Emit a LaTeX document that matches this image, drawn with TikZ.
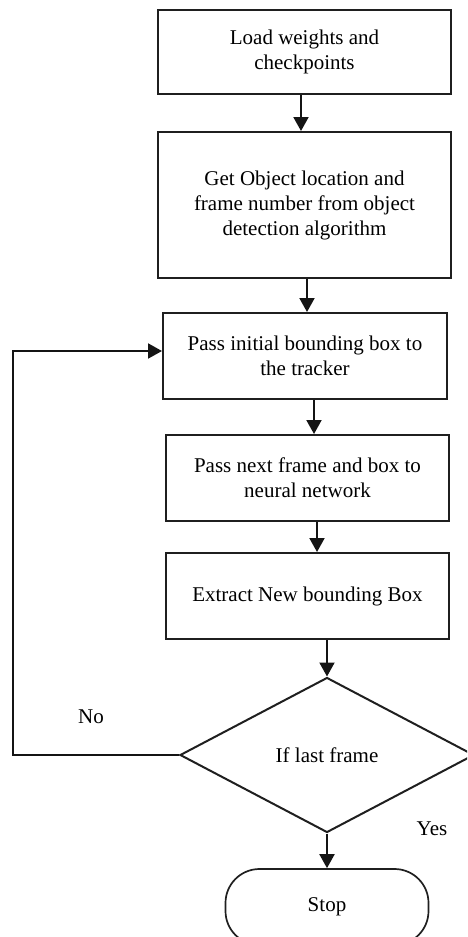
\documentclass[tikz,border=0pt]{standalone}
\usepackage{fontspec}
\setmainfont{Liberation Serif}
\usetikzlibrary{arrows.meta,shapes.geometric}

\tikzset{
  stepbox/.style={draw=black!88, line width=2pt, rectangle, inner sep=0pt,
    align=center, font=\fontsize{21}{25}\selectfont},
  decide/.style={draw=black!88, line width=2pt, diamond, inner sep=0pt,
    font=\fontsize{21}{25}\selectfont},
  term/.style={draw=black!88, line width=1.7pt, rectangle, rounded corners=34pt,
    inner sep=0pt, font=\fontsize{21}{25}\selectfont},
  lbl/.style={inner sep=0pt, font=\fontsize{21}{25}\selectfont},
  arr/.style={draw=black!92, line width=2pt,
    -{Triangle[length=14pt,width=15pt]}},
}

\begin{document}
\begin{tikzpicture}[x=1pt,y=-1pt]
  \useasboundingbox (0,0) rectangle (467,937);
  \clip (0,0) rectangle (467,937);

  % process boxes
  \node[stepbox, minimum width=293pt, minimum height=84pt] (b1) at (304.5,52)
    {Load weights and\\checkpoints};
  \node[stepbox, minimum width=293pt, minimum height=146pt] (b2) at (304.5,205)
    {Get Object location and\\frame number from object\\detection algorithm};
  \node[stepbox, minimum width=284pt, minimum height=86pt] (b3) at (305,356)
    {Pass initial bounding box to\\the tracker};
  \node[stepbox, minimum width=283pt, minimum height=86pt] (b4) at (307.5,478)
    {Pass next frame and box to\\neural network};
  \node[stepbox, minimum width=283pt, minimum height=86pt] (b5) at (307.5,596)
    {Extract New bounding Box};

  % decision and terminal
  \node[decide, minimum width=294pt, minimum height=155pt] (dia) at (327,755)
    {If last frame};
  \node[term, minimum width=203pt, minimum height=76pt] (stop) at (327,907)
    {Stop};

  % labels
  \node[lbl] (no) at (91,717) {No};
  \node[lbl] (yes) at (432,829) {Yes};

  % main flow
  \draw[arr] ([xshift=-3.5pt]b1.south) -- ([xshift=-3.5pt]b2.north);
  \draw[arr] ([xshift=2.5pt]b2.south) -- ([xshift=2pt]b3.north);
  \draw[arr] ([xshift=9pt]b3.south) -- ([xshift=6.5pt]b4.north);
  \draw[arr] ([xshift=9.5pt]b4.south) -- ([xshift=9.5pt]b5.north);
  \draw[arr] ([xshift=19.5pt]b5.south) -- (dia.north);
  \draw[arr] (dia.south) -- (stop.north);

  % loop back on "No"
  \draw[arr] (dia.west) -- ++(-166,0) |- ([yshift=5pt]b3.west);
\end{tikzpicture}
\end{document}
